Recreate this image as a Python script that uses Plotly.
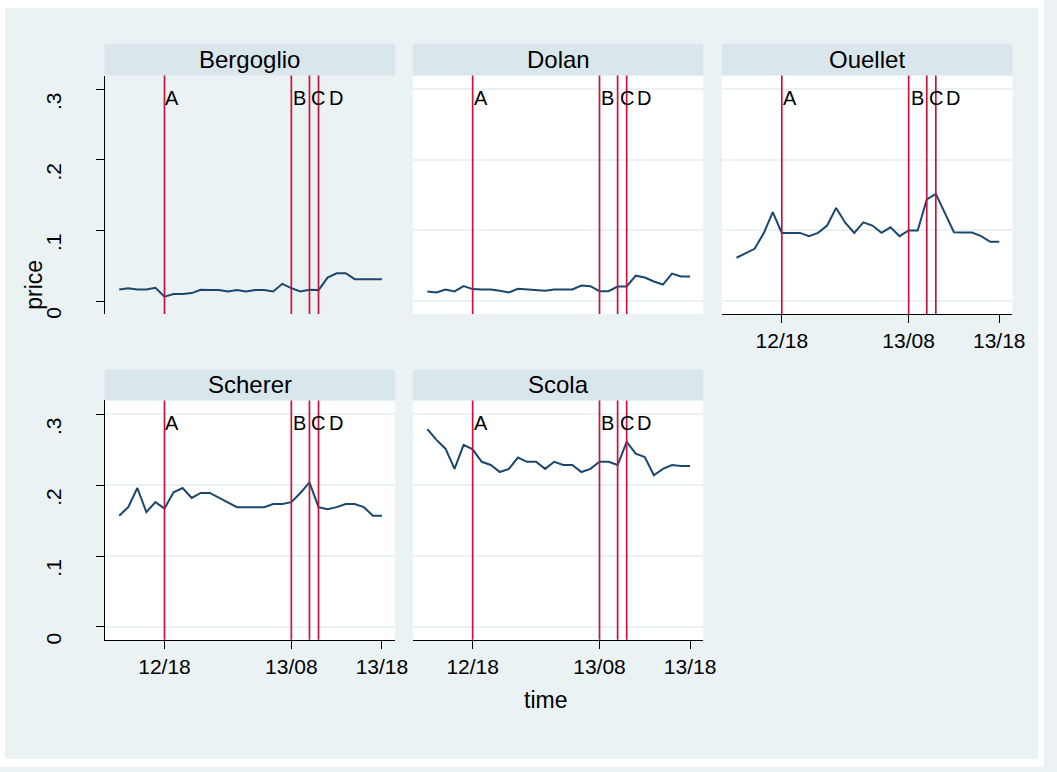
import pandas as pd
import plotly.graph_objects as go

# ---------------- data ----------------
times = pd.date_range("2013-03-12 13:00", "2013-03-13 18:00", freq="h")

bergoglio = [0.0164, 0.0183, 0.0164, 0.0164, 0.0188, 0.0061, 0.0099, 0.0099, 0.0113, 0.0160,
             0.0155, 0.0155, 0.0136, 0.0155, 0.0136, 0.0155, 0.0155, 0.0136, 0.0244, 0.0183,
             0.0136, 0.0160, 0.0155, 0.0333, 0.0394, 0.0394, 0.0310, 0.0310, 0.0310, 0.0310]
dolan = [0.0136, 0.0122, 0.0164, 0.0136, 0.0211, 0.0169, 0.0164, 0.0164, 0.0145, 0.0122,
         0.0173, 0.0164, 0.0164, 0.0145, 0.0164, 0.0164, 0.0164, 0.0220, 0.0211, 0.0140,
         0.0140, 0.0206, 0.0206, 0.0360, 0.0333, 0.0277, 0.0234, 0.0389, 0.0347, 0.0347]
ouellet = [0.0614, 0.0680, 0.0740, 0.0960, 0.1260, 0.0966, 0.0966, 0.0966, 0.0920, 0.0966,
           0.1070, 0.1320, 0.1110, 0.0966, 0.1116, 0.1070, 0.0966, 0.1045, 0.0920, 0.1000,
           0.1000, 0.1440, 0.1520, 0.1240, 0.0975, 0.0970, 0.0970, 0.0920, 0.0840, 0.0840]
scherer = [0.157, 0.169, 0.196, 0.162, 0.176, 0.167, 0.190, 0.196, 0.182, 0.189,
           0.189, 0.182, 0.175, 0.169, 0.169, 0.169, 0.169, 0.1735, 0.1735, 0.176,
           0.189, 0.204, 0.169, 0.166, 0.169, 0.1735, 0.1735, 0.169, 0.157, 0.157]
scola = [0.279, 0.264, 0.2515, 0.223, 0.257, 0.2506, 0.233, 0.2285, 0.2186, 0.223,
         0.239, 0.233, 0.233, 0.223, 0.233, 0.2285, 0.2285, 0.2186, 0.223, 0.233,
         0.233, 0.2285, 0.261, 0.2445, 0.2398, 0.214, 0.223, 0.2285, 0.227, 0.227]

names = ["Bergoglio", "Dolan", "Ouellet", "Scherer", "Scola"]
series = [bergoglio, dolan, ouellet, scherer, scola]

event_labels = ["A", "B", "C", "D"]
event_times = ["2013-03-12 18:00", "2013-03-13 08:00", "2013-03-13 10:00", "2013-03-13 11:00"]

x_tick_times = ["2013-03-12 18:00", "2013-03-13 08:00", "2013-03-13 18:00"]
x_tick_labels = ["12/18", "13/08", "13/18"]
y_tick_vals = [0, 0.1, 0.2, 0.3]
y_tick_labels = ["0", ".1", ".2", ".3"]

# ---------------- styling / layout ----------------
W, H = 1057, 772
BG = "#EAF2F3"
STRIP = "#D9E6EB"
NAVY = "#1A476F"
RED = "#C8143C"
FONT = "Liberation Sans, Arial, sans-serif"

col_x = [(106, 400), (418, 712), (731, 1025)]
row_y = [(76, 316), (403, 644)]
strip_y = [(44, 76), (372, 403)]
grid_pos = [(0, 0), (1, 0), (2, 0), (0, 1), (1, 1)]
show_x = [False, False, True, True, True]
show_y = [True, False, False, True, False]
white_bg = [False, True, True, True, True]
label_shift = [-1, 0, 0, 8]


def px(x):
    return x / W


def py(y):
    return 1 - y / H


fig = go.Figure()
layout = dict(
    width=W, height=H,
    margin=dict(l=0, r=0, t=0, b=0),
    paper_bgcolor=BG,
    plot_bgcolor="white",
    showlegend=False,
    font=dict(family=FONT, color="black", size=20),
)
shapes = []
annotations = []

xrange_ = ["2013-03-12 11:24", "2013-03-13 19:27"]
yrange_ = [-0.0183, 0.3197]

for i, (name, vals) in enumerate(zip(names, series)):
    c, r = grid_pos[i]
    k = "" if i == 0 else str(i + 1)
    xa, ya = "x" + k, "y" + k
    x0, x1 = col_x[c]
    y0, y1 = row_y[r]
    fig.add_trace(go.Scatter(x=times, y=vals, mode="lines", xaxis=xa, yaxis=ya,
                             line=dict(color=NAVY, width=2), hoverinfo="skip"))
    xaxis = dict(
        domain=[px(x0), px(x1)], anchor=ya, type="date", range=xrange_,
        tickvals=x_tick_times, ticktext=x_tick_labels,
        showgrid=False, zeroline=False, fixedrange=True,
    )
    if show_x[i]:
        xaxis.update(showline=True, linecolor="black", linewidth=1, ticks="outside",
                     ticklen=8, tickcolor="black", tickwidth=1, showticklabels=True,
                     tickfont=dict(size=21, family=FONT))
    else:
        xaxis.update(showline=False, ticks="", showticklabels=False)
    yaxis = dict(
        domain=[py(y1), py(y0)], anchor=xa, range=yrange_,
        tickvals=y_tick_vals, ticktext=y_tick_labels,
        showgrid=True, gridcolor=BG, gridwidth=1.5, zeroline=False, fixedrange=True,
    )
    if show_y[i]:
        yaxis.update(showline=True, linecolor="black", linewidth=1, ticks="outside",
                     ticklen=8, tickcolor="black", tickwidth=1, showticklabels=True,
                     tickangle=-90, ticklabelshift=15, ticklabelstandoff=26,
                     tickfont=dict(size=21, family=FONT))
    else:
        yaxis.update(ticks="", showticklabels=False, showline=False)
    layout["xaxis" + k] = xaxis
    layout["yaxis" + k] = yaxis

    if not white_bg[i]:
        shapes.append(dict(type="rect", xref=xa + " domain", yref=ya + " domain",
                           x0=0, x1=1, y0=0, y1=1, fillcolor=BG, line=dict(width=0),
                           layer="below"))
    sy0, sy1 = strip_y[r]
    shapes.append(dict(type="rect", xref="paper", yref="paper",
                       x0=px(x0), x1=px(x1), y0=py(sy1), y1=py(sy0),
                       fillcolor=STRIP, line=dict(width=0), layer="below"))
    annotations.append(dict(text=name, xref="paper", yref="paper",
                            x=(px(x0) + px(x1)) / 2, y=(py(sy0) + py(sy1)) / 2,
                            xanchor="center", yanchor="middle", showarrow=False,
                            font=dict(size=24, family=FONT)))
    for j, (lab, t) in enumerate(zip(event_labels, event_times)):
        shapes.append(dict(type="line", xref=xa, yref=ya + " domain",
                           x0=t, x1=t, y0=0, y1=1,
                           line=dict(color=RED, width=1.7), layer="above"))
        annotations.append(dict(text=lab, xref=xa, yref=ya, x=t, y=0.3,
                                xanchor="left", yanchor="top", showarrow=False,
                                xshift=label_shift[j], yshift=4,
                                font=dict(size=20, family=FONT)))

# white outer border
for (a, b, c2, d) in [(0, 0, W, 8), (0, 764, W, H), (0, 0, 5, H), (1051, 0, W, H)]:
    shapes.append(dict(type="rect", xref="paper", yref="paper",
                       x0=px(a), x1=px(c2), y0=py(d), y1=py(b),
                       fillcolor="white", line=dict(width=0), layer="above"))

annotations.append(dict(text="price", xref="paper", yref="paper", x=px(35), y=py(287),
                        xanchor="center", yanchor="middle", textangle=-90, showarrow=False,
                        font=dict(size=23, family=FONT)))
annotations.append(dict(text="time", xref="paper", yref="paper", x=px(552), y=py(705),
                        xanchor="center", yanchor="middle", showarrow=False,
                        font=dict(size=23, family=FONT)))

layout["shapes"] = shapes
layout["annotations"] = annotations
fig.update_layout(**layout)

post = ("document.documentElement.style.margin='0';"
        "document.documentElement.style.overflow='hidden';"
        "document.body.style.margin='0';"
        "document.body.style.padding='0';document.body.style.overflow='hidden';"
        "var d=document.getElementById('{plot_id}');"
        "d.style.position='absolute';d.style.left='0px';d.style.top='0px';")
fig.write_html("out.html", post_script=post,
               config={"displayModeBar": False, "responsive": False})
